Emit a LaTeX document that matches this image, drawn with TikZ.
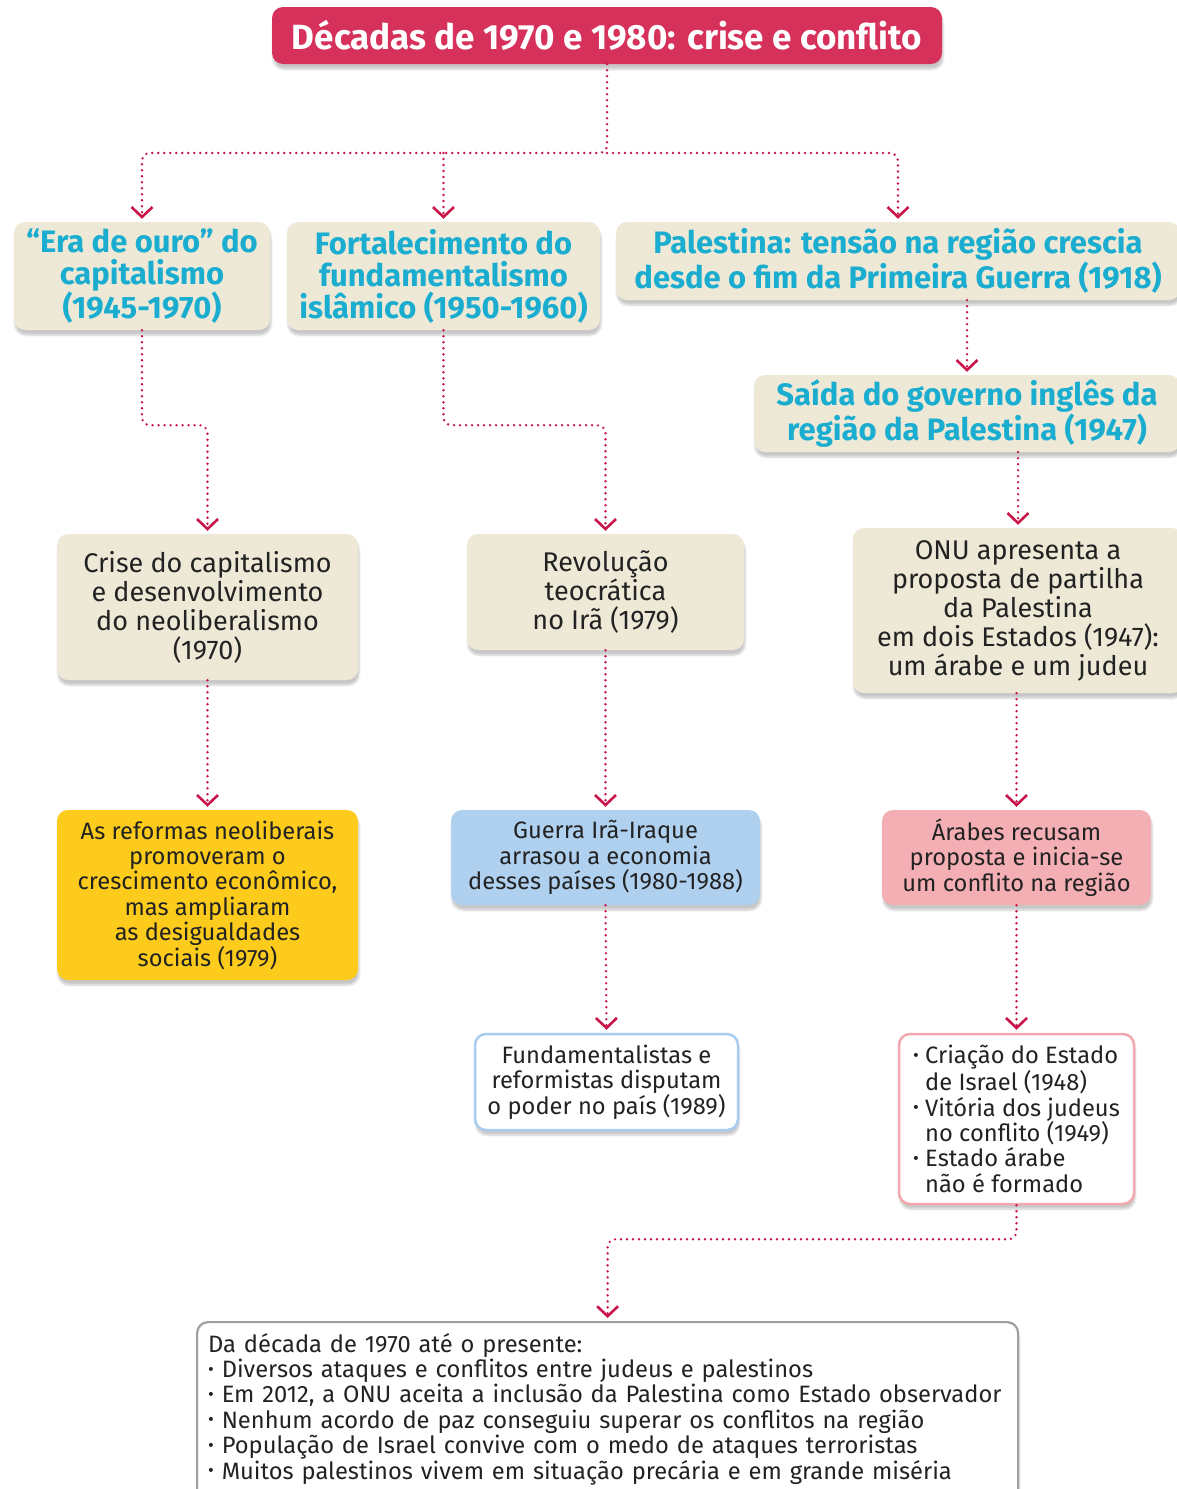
\documentclass[tikz,border=0pt]{standalone}
\usepackage{fontspec}
\usepackage{graphicx}
\setmainfont{Fira Sans}
\usetikzlibrary{arrows.meta,shadows.blur}
\definecolor{carmim}{RGB}{214,49,91}
\definecolor{linha}{RGB}{200,22,74}
\definecolor{bege}{RGB}{238,233,214}
\definecolor{ciano}{RGB}{27,173,208}
\definecolor{texto}{RGB}{34,34,34}
\definecolor{amarelo}{RGB}{252,203,27}
\definecolor{azul}{RGB}{175,208,238}
\definecolor{rosa}{RGB}{244,175,180}
\definecolor{bordaazul}{RGB}{169,205,238}
\definecolor{bordarosa}{RGB}{242,168,174}
\newcommand{\marca}{\raisebox{0.1em}{\scalebox{0.75}{\textbullet}}\ }
\tikzset{
sombra/.style={blur shadow={shadow xshift=1pt,shadow yshift=-5pt,shadow opacity=22,shadow blur steps=6}},
caixa/.style={rounded corners=11pt,inner sep=4pt,align=center,sombra,text=texto},
titulo cx/.style={caixa,fill=carmim,text=white,font=\fontsize{35}{38}\selectfont\bfseries},
tema/.style={caixa,fill=bege,text=ciano,font=\fontsize{31}{32}\selectfont\bfseries},
fato/.style={caixa,fill=bege,font=\fontsize{27}{29}\selectfont},
efeito/.style={caixa,font=\fontsize{23.7}{25.4}\selectfont},
seta/.style={draw=linha,line width=2.6pt,dash pattern=on 0pt off 6pt,line cap=round,
  rounded corners=8pt,-{Straight Barb[length=10pt,width=21pt,line width=2.6pt]},shorten >=3pt}}

\begin{document}
\begin{tikzpicture}[x=1pt,y=-1pt]
\useasboundingbox (0,0) rectangle (1177,1489);
\clip (0,0) rectangle (1177,1489);

\node[titulo cx,minimum width=670,minimum height=57] (tit) at (607,35.5) {D\'ecadas de 1970 e 1980: crise e conflito};

% primeira linha
\node[tema,minimum width=256,minimum height=108] (era) at (142,276) {``Era de ouro'' do\\capitalismo\\(1945-1970)};
\node[tema,minimum width=313,minimum height=108] (fund) at (443.5,276) {Fortalecimento do\\fundamentalismo\\isl\^amico (1950-1960)};
\node[tema,minimum width=564,minimum height=78] (pal) at (898,261) {Palestina: tens\~ao na regi\~ao crescia\\desde o fim da Primeira Guerra (1918)};
\node[tema,minimum width=426,minimum height=77] (said) at (967,413.5) {Sa\'ida do governo ingl\^es da\\regi\~ao da Palestina (1947)};

% segunda linha
\node[fato,minimum width=301,minimum height=146] (crise) at (207.5,607) {Crise do capitalismo\\e desenvolvimento\\do neoliberalismo\\(1970)};
\node[fato,minimum width=277,minimum height=116] (rev) at (605.5,592) {Revolu\c{c}\~ao\\teocr\'atica\\no Ir\~a (1979)};
\node[fato,minimum width=330,minimum height=165] (onu) at (1018,610.5) {ONU apresenta a\\proposta de partilha\\da Palestina\\em dois Estados (1947):\\um \'arabe e um judeu};

% terceira linha
\node[efeito,fill=amarelo,minimum width=301,minimum height=170] (ref) at (207.5,895) {As reformas neoliberais\\promoveram o\\crescimento econ\^omico,\\mas ampliaram\\as desigualdades\\sociais (1979)};
\node[efeito,fill=azul,minimum width=309,minimum height=95] (guerra) at (605.5,857.5) {Guerra Ir\~a-Iraque\\arrasou a economia\\desses pa\'ises (1980-1988)};
\node[efeito,fill=rosa,minimum width=269,minimum height=95] (arab) at (1016.5,857.5) {\'Arabes recusam\\proposta e inicia-se\\um conflito na regi\~ao};

% quarta linha
\node[efeito,fill=white,draw=bordaazul,line width=2.5pt,minimum width=263,minimum height=96] (disp) at (606.5,1082) {Fundamentalistas e\\reformistas disputam\\o poder no pa\'is (1989)};
\node[efeito,fill=white,draw=bordarosa,line width=2.5pt,minimum width=235,minimum height=170,align=left] (israel) at (1016.5,1119)
  {\marca Cria\c{c}\~ao do Estado\\\phantom{\marca}de Israel (1948)\\\marca Vit\'oria dos judeus\\\phantom{\marca}no conflito (1949)\\\marca Estado \'arabe\\\phantom{\marca}n\~ao \'e formado};

\node[efeito,fill=white,draw=gray!75,line width=2.2pt,minimum width=821,
  align=left,text width=799,inner xsep=11pt,inner ysep=11pt,text depth=160pt,anchor=north west] (hoje) at (196,1321)
  {Da d\'ecada de 1970 at\'e o presente:\\
   \marca Diversos ataques e conflitos entre judeus e palestinos\\
   \marca Em 2012, a ONU aceita a inclus\~ao da Palestina como Estado observador\\
   \marca Nenhum acordo de paz conseguiu superar os conflitos na regi\~ao\\
   \marca Popula\c{c}\~ao de Israel convive com o medo de ataques terroristas\\
   \marca Muitos palestinos vivem em situa\c{c}\~ao prec\'aria e em grande mis\'eria};

% conectores
\coordinate (bif) at (607,153);
\draw[seta] (tit.south) -- (bif) -| (era.north);
\draw[seta] (bif) -| (pal.north);
\draw[seta] (fund.north |- bif) -- (fund.north);
\draw[seta] (said.north |- pal.south) -- (said.north);
\draw[seta] (era.south) -- ++(0,95) -| (crise.north);
\draw[seta] (fund.south) -- ++(0,95) -| (rev.north);
\draw[seta] (onu.north |- said.south) -- (onu.north);
\draw[seta] (crise.south) -- (ref.north);
\draw[seta] (rev.south) -- (guerra.north);
\draw[seta] (arab.north |- onu.south) -- (arab.north);
\draw[seta] (guerra.south) -- (disp.north);
\draw[seta] (arab.south) -- (israel.north);
\draw[seta] (israel.south) -- ++(0,34) -| (hoje.north);

\end{tikzpicture}
\end{document}
